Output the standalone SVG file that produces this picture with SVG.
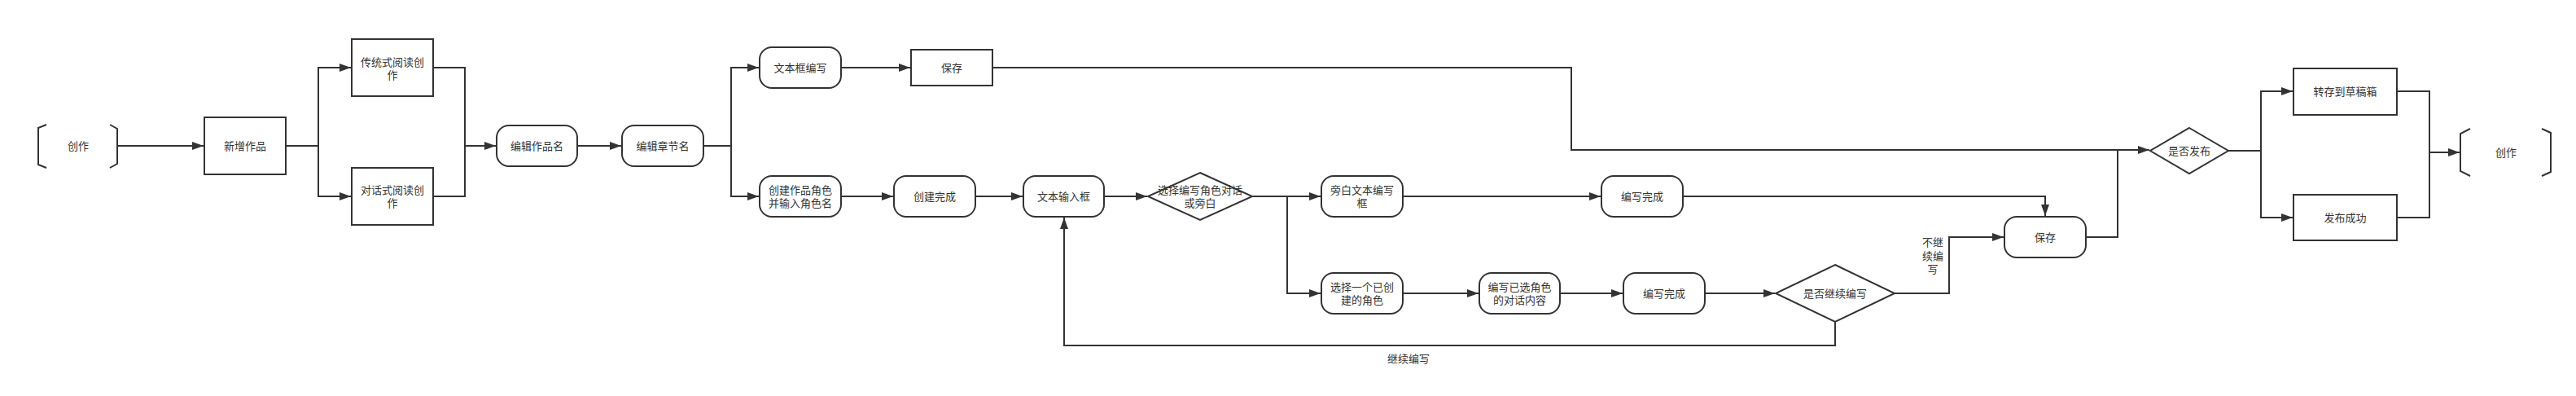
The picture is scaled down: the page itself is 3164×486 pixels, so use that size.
<svg xmlns="http://www.w3.org/2000/svg" width="3164" height="486" viewBox="0 0 3164 486">
<style>
.n{fill:#fff;stroke:#333;stroke-width:2}
.b{fill:none;stroke:#333;stroke-width:2}
.t{font-family:"Liberation Sans","Noto Sans CJK SC",sans-serif;font-size:13px;fill:#333;text-anchor:middle;dominant-baseline:central}
.c{fill:none;stroke:#333;stroke-width:2}
.a{marker-end:url(#arr)}
</style>
<defs>
<marker id="arr" markerUnits="userSpaceOnUse" markerWidth="15" markerHeight="11" refX="14" refY="5" orient="auto">
<path d="M0,0 L14,5 L0,10 Z" fill="#333"/>
</marker>
</defs>
<rect width="3164" height="486" fill="#fff"/>
<g id="connectors">
<path class="c a" d="M144,179 H250"/>
<path class="c a" d="M351,179 H391 V83 H431"/>
<path class="c a" d="M391,179 V241 H431"/>
<path class="c a" d="M532,83 H571 V179 H609"/>
<path class="c" d="M532,241 H571 V179"/>
<path class="c a" d="M709,179 H763"/>
<path class="c a" d="M864,179 H898 V83 H932"/>
<path class="c a" d="M898,179 V241 H932"/>
<path class="c a" d="M1033,83 H1118"/>
<path class="c a" d="M1219,83 H1930 V184 H2640"/>
<path class="c a" d="M1033,241 H1097"/>
<path class="c a" d="M1198,241 H1256"/>
<path class="c a" d="M1356,241 H1409"/>
<path class="c a" d="M1538,241 H1622"/>
<path class="c a" d="M1581,241 V360 H1622"/>
<path class="c a" d="M1723,241 H1966"/>
<path class="c a" d="M2067,241 H2512 V265"/>
<path class="c a" d="M1723,360 H1816"/>
<path class="c a" d="M1916,360 H1993"/>
<path class="c a" d="M2094,360 H2180"/>
<path class="c a" d="M2327,360 H2394 V291 H2461"/>
<path class="c a" d="M2254,395 V424 H1307 V267"/>
<path class="c" d="M2562,291 H2601 V184"/>
<path class="c a" d="M2737,185 H2777 V112 H2816"/>
<path class="c a" d="M2777,185 V267 H2816"/>
<path class="c a" d="M2944,112 H2984 V187 H3021"/>
<path class="c" d="M2944,267 H2984 V187"/>
<text class="t" x="2374" y="297">不继</text>
<text class="t" x="2374" y="314">续编</text>
<text class="t" x="2374" y="330">写</text>
<text class="t" x="1730" y="440">继续编写</text>
</g>
<g id="start">
<path class="b" d="M57,153 L47,157 V202 L57,206 M135,153 L144,158 V201 L135,206"/>
<text class="t" x="96" y="179">创作</text>
</g>
<g id="xinzeng">
<rect class="n" x="251" y="144" width="100" height="70"/>
<text class="t" x="301" y="179">新增作品</text>
</g>
<g id="chuantong">
<rect class="n" x="432" y="48" width="100" height="70"/>
<text class="t" x="482" y="76">传统式阅读创</text>
<text class="t" x="482" y="92">作</text>
</g>
<g id="duihua">
<rect class="n" x="432" y="206" width="100" height="70"/>
<text class="t" x="482" y="233">对话式阅读创</text>
<text class="t" x="482" y="249">作</text>
</g>
<g id="bianjizuopin">
<rect class="n" x="610" y="154" width="99" height="50" rx="15"/>
<text class="t" x="659.5" y="179">编辑作品名</text>
</g>
<g id="bianjizhangjie">
<rect class="n" x="764" y="154" width="100" height="50" rx="15"/>
<text class="t" x="814" y="179">编辑章节名</text>
</g>
<g id="wenbenkuang">
<rect class="n" x="933" y="58" width="100" height="50" rx="15"/>
<text class="t" x="983" y="83">文本框编写</text>
</g>
<g id="baocun1">
<rect class="n" x="1119" y="61" width="100" height="44"/>
<text class="t" x="1169" y="83">保存</text>
</g>
<g id="chuangjianjuese">
<rect class="n" x="933" y="216" width="100" height="50" rx="15"/>
<text class="t" x="983" y="233">创建作品角色</text>
<text class="t" x="983" y="249">并输入角色名</text>
</g>
<g id="chuangjianwancheng">
<rect class="n" x="1098" y="216" width="100" height="50" rx="15"/>
<text class="t" x="1148" y="241">创建完成</text>
</g>
<g id="wenbenshuru">
<rect class="n" x="1257" y="216" width="99" height="50" rx="15"/>
<text class="t" x="1306.5" y="241">文本输入框</text>
</g>
<g id="xuanze">
<path class="n" d="M1474,212 L1538,241 L1474,270 L1410,241 Z"/>
<text class="t" x="1474" y="233">选择编写角色对话</text>
<text class="t" x="1474" y="249">或旁白</text>
</g>
<g id="pangbai">
<rect class="n" x="1623" y="216" width="100" height="50" rx="15"/>
<text class="t" x="1673" y="233">旁白文本编写</text>
<text class="t" x="1673" y="249">框</text>
</g>
<g id="wancheng1">
<rect class="n" x="1967" y="216" width="100" height="50" rx="15"/>
<text class="t" x="2017" y="241">编写完成</text>
</g>
<g id="xuanzejuese">
<rect class="n" x="1623" y="335" width="100" height="50" rx="15"/>
<text class="t" x="1673" y="352">选择一个已创</text>
<text class="t" x="1673" y="368">建的角色</text>
</g>
<g id="bianxieduihua">
<rect class="n" x="1817" y="335" width="99" height="50" rx="15"/>
<text class="t" x="1866.5" y="352">编写已选角色</text>
<text class="t" x="1866.5" y="368">的对话内容</text>
</g>
<g id="wancheng2">
<rect class="n" x="1994" y="335" width="100" height="50" rx="15"/>
<text class="t" x="2044" y="360">编写完成</text>
</g>
<g id="jixu">
<path class="n" d="M2254,325 L2327,360 L2254,395 L2181,360 Z"/>
<text class="t" x="2254" y="360">是否继续编写</text>
</g>
<g id="baocun2">
<rect class="n" x="2462" y="266" width="100" height="50" rx="15"/>
<text class="t" x="2512" y="291">保存</text>
</g>
<g id="fabu">
<path class="n" d="M2689,157 L2737,185 L2689,213 L2641,185 Z"/>
<text class="t" x="2689" y="185">是否发布</text>
</g>
<g id="caogao">
<rect class="n" x="2817" y="84" width="127" height="57"/>
<text class="t" x="2880.5" y="112.5">转存到草稿箱</text>
</g>
<g id="fabuchenggong">
<rect class="n" x="2817" y="239" width="127" height="56"/>
<text class="t" x="2880.5" y="267">发布成功</text>
</g>
<g id="end">
<path class="b" d="M3034,158 L3022,164 V210 L3034,216 M3122,158 L3133,163 V211 L3122,216"/>
<text class="t" x="3078" y="187">创作</text>
</g>
</svg>
